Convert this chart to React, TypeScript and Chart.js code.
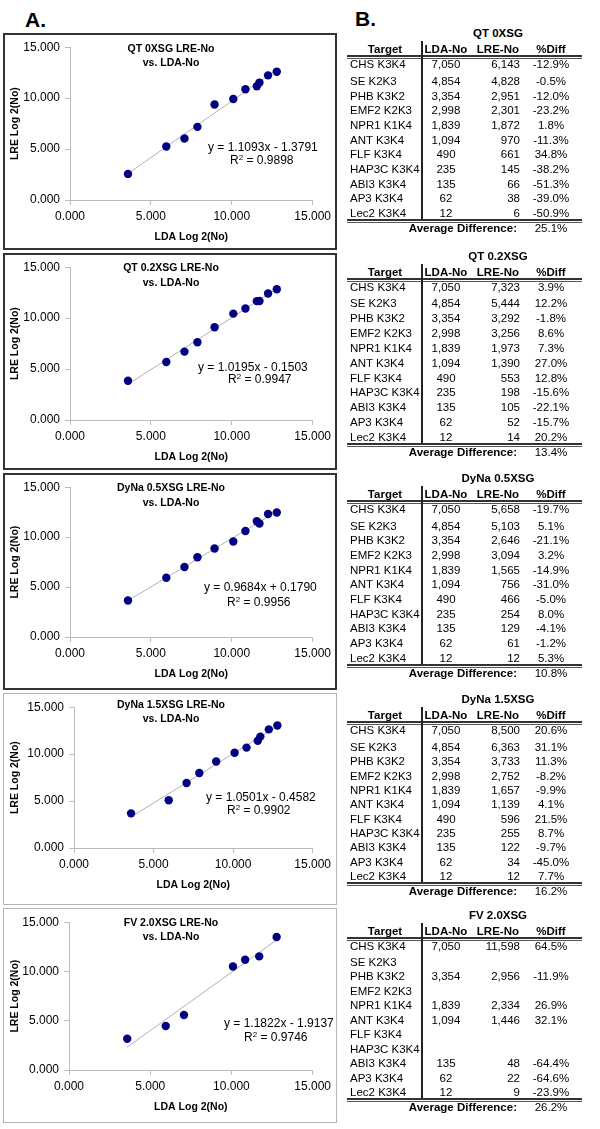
import React, { useEffect, useRef } from "react";
import { Chart, registerables } from "chart.js";

Chart.register(...registerables);

const FONT = 'Arial, "Liberation Sans", Helvetica, sans-serif';

// ---------- data ----------
const panelNames = ["QT 0XSG", "QT 0.2XSG", "DyNa 0.5XSG", "DyNa 1.5XSG", "FV 2.0XSG"];
const targets = [
  "CHS K3K4", "SE K2K3", "PHB K3K2", "EMF2 K2K3", "NPR1 K1K4", "ANT K3K4",
  "FLF K3K4", "HAP3C K3K4", "ABI3 K3K4", "AP3 K3K4", "Lec2 K3K4",
];
const ldaNo = [7050, 4854, 3354, 2998, 1839, 1094, 490, 235, 135, 62, 12];
const ldaNoFV = [7050, null, 3354, null, 1839, 1094, null, null, 135, 62, 12];

const lreQT0 = [6143, 4828, 2951, 2301, 1872, 970, 661, 145, 66, 38, 6];
const lreQT02 = [7323, 5444, 3292, 3256, 1973, 1390, 553, 198, 105, 52, 14];
const lreDyNa05 = [5658, 5103, 2646, 3094, 1565, 756, 466, 254, 129, 61, 12];
const lreDyNa15 = [8500, 6363, 3733, 2752, 1657, 1139, 596, 255, 122, 34, 12];
const lreFV20 = [11598, null, 2956, null, 2334, 1446, null, null, 48, 22, 9];

const diffQT0 = [-12.9, -0.5, -12.0, -23.2, 1.8, -11.3, 34.8, -38.2, -51.3, -39.0, -50.9];
const diffQT02 = [3.9, 12.2, -1.8, 8.6, 7.3, 27.0, 12.8, -15.6, -22.1, -15.7, 20.2];
const diffDyNa05 = [-19.7, 5.1, -21.1, 3.2, -14.9, -31.0, -5.0, 8.0, -4.1, -1.2, 5.3];
const diffDyNa15 = [20.6, 31.1, 11.3, -8.2, -9.9, 4.1, 21.5, 8.7, -9.7, -45.0, 7.7];
const diffFV20 = [64.5, null, -11.9, null, 26.9, 32.1, null, null, -64.4, -64.6, -23.9];
const avgDiff = [25.1, 13.4, 10.8, 16.2, 26.2];

// scatter points: Log2(No) values
const ldaLog2 = [12.783, 12.245, 11.712, 11.55, 10.845, 10.095, 8.937, 7.877, 7.077, 5.954, 3.585];
const lreLog2QT0 = [12.585, 12.237, 11.527, 11.168, 10.87, 9.922, 9.369, 7.18, 6.044, 5.248, 2.56];
const lreLog2QT02 = [12.838, 12.411, 11.685, 11.669, 10.946, 10.441, 9.111, 7.629, 6.714, 5.7, 3.85];
const lreLog2DyNa05 = [12.466, 12.317, 11.37, 11.595, 10.612, 9.562, 8.864, 7.989, 7.011, 5.931, 3.66];
const lreLog2DyNa15 = [13.053, 12.636, 11.866, 11.426, 10.694, 10.154, 9.219, 7.994, 6.931, 5.087, 3.69];
const lreLog2FV20 = [13.502, null, 11.53, null, 11.189, 10.498, null, null, 5.585, 4.459, 3.17];

const slopes = [1.1093, 1.0195, 0.9684, 1.0501, 1.1822];
const intercepts = [-1.3791, -0.1503, 0.179, -0.4582, -1.9137];
const rSquared = ["0.9898", "0.9947", "0.9956", "0.9902", "0.9746"];
const axisMin = 0;
const axisMax = 15;
const axisStep = 5;

const ldaTable = [ldaNo, ldaNo, ldaNo, ldaNo, ldaNoFV];
const lreTable = [lreQT0, lreQT02, lreDyNa05, lreDyNa15, lreFV20];
const diffTable = [diffQT0, diffQT02, diffDyNa05, diffDyNa15, diffFV20];
const lreLog2 = [lreLog2QT0, lreLog2QT02, lreLog2DyNa05, lreLog2DyNa15, lreLog2FV20];

// ---------- layout ----------
const BOX_TOP = [33, 253, 473, 693, 908];
const BOX_H = [217, 217, 217, 212, 215];
const BOX_BORDER = ["2px solid #333", "2px solid #333", "2px solid #333", "1px solid #b5b5b5", "1px solid #b5b5b5"];
const PLOT_TOP = [45, 263, 484, 702, 918];
const PLOT_BOTTOM = [200, 420, 637, 848, 1070];
const PLOT_LEFT = [70, 70, 70, 74, 69];
const PLOT_RIGHT = 313;
const CANVAS_LEFT = 5;
const CANVAS_W = 330;
const TITLE_Y1 = [48, 267, 487, 704, 922];
const TITLE_Y2 = [62, 282, 502, 718, 936];
const EQ1 = [[208, 147], [198, 367], [204, 587], [206, 797], [224, 1023]];
const EQ2 = [[230, 160], [228, 379], [227, 602], [227, 810], [244, 1037]];

const TBL_TITLE_Y = [33, 256, 478, 699, 915];
const TBL_FIRST_GAP = [17, 16, 16.7, 17, 15.7];
const TBL_PITCH = [14.67, 14.9, 14.67, 14.33, 14.5];

const NAVY = "#000080";
const AXIS = "#bdbdbd";

function fmtInt(v: number | null) {
  return v == null ? "" : v.toLocaleString("en-US");
}
function fmtPct(v: number | null) {
  return v == null ? "" : v.toFixed(1) + "%";
}
function fmtEq(m: number, b: number) {
  return "y = " + m.toFixed(4) + "x " + (b < 0 ? "- " : "+ ") + Math.abs(b).toFixed(4);
}

type TxtProps = {
  x: number;
  y: number;
  align?: "left" | "center" | "right";
  size?: number;
  bold?: boolean;
  children: React.ReactNode;
};

function Txt({ x, y, align = "left", size = 11.5, bold = false, children }: TxtProps) {
  const lh = 14;
  let left = x;
  const w = 240;
  if (align === "center") left = x - w / 2;
  if (align === "right") left = x - w;
  return (
    <div
      style={{
        position: "absolute",
        left,
        top: y - lh / 2,
        width: align === "left" ? "auto" : w,
        height: lh,
        lineHeight: lh + "px",
        fontSize: size,
        fontWeight: bold ? "bold" : "normal",
        fontFamily: FONT,
        textAlign: align,
        whiteSpace: "nowrap",
        color: "#000",
      }}
    >
      {children}
    </div>
  );
}

function ScatterPanel({ i }: { i: number }) {
  const ref = useRef<HTMLCanvasElement | null>(null);
  const canvasTop = BOX_TOP[i] + 2;
  const canvasH = BOX_H[i] - 4;

  useEffect(() => {
    if (!ref.current) return;
    const plotLeft = PLOT_LEFT[i] - CANVAS_LEFT;
    const plotTop = PLOT_TOP[i] - canvasTop;
    const plotBottom = PLOT_BOTTOM[i] - canvasTop;
    const plotRight = PLOT_RIGHT - CANVAS_LEFT;
    const ys = lreLog2[i];
    const pts = ldaLog2
      .map((x, k) => ({ x, y: ys[k] }))
      .filter((p) => p.y != null) as { x: number; y: number }[];
    const xs = pts.map((p) => p.x);
    const xMin = Math.min(...xs);
    const xMax = Math.max(...xs);
    const m = slopes[i];
    const b = intercepts[i];
    const trend = [
      { x: xMin, y: m * xMin + b },
      { x: xMax, y: m * xMax + b },
    ];
    const titleSize = 10.5;
    const titleLH = titleSize * 1.2;
    const xTitlePad = canvasH - plotBottom - 37 - titleLH / 2;
    const tickFont = { family: FONT, size: 12 };
    const titleFont = { family: FONT, size: titleSize, weight: "bold" as const };

    const chart = new Chart(ref.current, {
      type: "scatter",
      data: {
        datasets: [
          {
            type: "scatter",
            data: pts,
            pointRadius: 4.2,
            pointBackgroundColor: NAVY,
            pointBorderColor: NAVY,
            pointBorderWidth: 0,
            order: 0,
          },
          {
            type: "line",
            data: trend,
            borderColor: "#b0b0b0",
            borderWidth: 1,
            pointRadius: 0,
            fill: false,
            order: 1,
          } as any,
        ],
      },
      options: {
        responsive: false,
        animation: false,
        devicePixelRatio: 1,
        layout: { padding: { left: 0, top: plotTop, right: CANVAS_W - plotRight, bottom: 0 } },
        plugins: {
          legend: { display: false },
          tooltip: { enabled: false },
          title: { display: false },
        },
        scales: {
          x: {
            type: "linear",
            position: "bottom",
            min: axisMin,
            max: axisMax,
            ticks: {
              stepSize: axisStep,
              callback: (v: any) => Number(v).toFixed(3),
              font: tickFont,
              color: "#000",
              padding: 4,
              maxRotation: 0,
              autoSkip: false,
            },
            grid: { drawOnChartArea: false, drawTicks: true, tickLength: 5, color: AXIS },
            border: { color: AXIS, width: 1 },
            title: {
              display: true,
              text: "LDA Log 2(No)",
              font: titleFont,
              color: "#000",
              padding: { top: 0, bottom: xTitlePad },
            },
            afterFit: (s: any) => {
              s.height = canvasH - plotBottom;
            },
          },
          y: {
            type: "linear",
            position: "left",
            min: axisMin,
            max: axisMax,
            ticks: {
              stepSize: axisStep,
              callback: (v: any) => Number(v).toFixed(3),
              font: tickFont,
              color: "#000",
              padding: 5,
            },
            grid: { drawOnChartArea: false, drawTicks: true, tickLength: 5, color: AXIS },
            border: { color: AXIS, width: 1 },
            title: {
              display: true,
              text: "LRE Log 2(No)",
              font: titleFont,
              color: "#000",
              padding: { top: 4, bottom: 0 },
            },
            afterFit: (s: any) => {
              s.width = plotLeft;
            },
          },
        },
      } as any,
    });
    return () => chart.destroy();
  }, [i]);

  return (
    <>
      <div
        style={{
          position: "absolute",
          left: 3,
          top: BOX_TOP[i],
          width: 334,
          height: BOX_H[i],
          boxSizing: "border-box",
          border: BOX_BORDER[i],
          background: "#fff",
        }}
      />
      <canvas
        ref={ref}
        width={CANVAS_W}
        height={canvasH}
        style={{ position: "absolute", left: CANVAS_LEFT, top: canvasTop, width: CANVAS_W, height: canvasH }}
      />
      <Txt x={171} y={TITLE_Y1[i]} align="center" size={10.5} bold>
        {panelNames[i] + " LRE-No"}
      </Txt>
      <Txt x={171} y={TITLE_Y2[i]} align="center" size={10.5} bold>
        vs. LDA-No
      </Txt>
      <Txt x={EQ1[i][0]} y={EQ1[i][1]} size={12}>
        {fmtEq(slopes[i], intercepts[i])}
      </Txt>
      <Txt x={EQ2[i][0]} y={EQ2[i][1]} size={12}>
        R<sup style={{ fontSize: 8, verticalAlign: "4px", lineHeight: 0 }}>2</sup> = {rSquared[i]}
      </Txt>
    </>
  );
}

function Line({ x1, x2, y, h, color }: { x1: number; x2: number; y: number; h: number; color: string }) {
  return <div style={{ position: "absolute", left: x1, top: y, width: x2 - x1, height: h, background: color }} />;
}

function DataTable({ t }: { t: number }) {
  const ty = TBL_TITLE_Y[t];
  const headerY = ty + 16;
  const lineY = ty + 22;
  const rowY = (k: number) => (k === 0 ? ty + 31 : ty + 31 + TBL_FIRST_GAP[t] + (k - 1) * TBL_PITCH[t]);
  const lastY = rowY(targets.length - 1);
  const botY = lastY + 6;
  const avgY = lastY + 15;
  const lda = ldaTable[t];
  const lre = lreTable[t];
  const diff = diffTable[t];
  const X0 = 347;
  const X1 = 582;
  return (
    <>
      <Txt x={498} y={ty} align="center" bold>
        {panelNames[t]}
      </Txt>
      <Txt x={385} y={headerY} align="center" bold>
        Target
      </Txt>
      <Txt x={446} y={headerY} align="center" bold>
        LDA-No
      </Txt>
      <Txt x={519} y={headerY} align="right" bold>
        LRE-No
      </Txt>
      <Txt x={551} y={headerY} align="center" bold>
        %Diff
      </Txt>
      <Line x1={X0} x2={X1} y={lineY} h={2} color="#333" />
      <Line x1={X0} x2={X1} y={lineY + 3} h={1} color="#555" />
      <div style={{ position: "absolute", left: 421, top: ty + 8, width: 1.5, height: botY - ty - 8, background: "#222" }} />
      {targets.map((name, k) => (
        <React.Fragment key={k}>
          <Txt x={350} y={rowY(k)}>
            {name}
          </Txt>
          <Txt x={446} y={rowY(k)} align="center">
            {fmtInt(lda[k])}
          </Txt>
          <Txt x={520} y={rowY(k)} align="right">
            {fmtInt(lre[k])}
          </Txt>
          <Txt x={551} y={rowY(k)} align="center">
            {fmtPct(diff[k])}
          </Txt>
        </React.Fragment>
      ))}
      <Line x1={X0} x2={X1} y={botY} h={2} color="#333" />
      <Line x1={X0} x2={X1} y={botY + 3} h={1} color="#555" />
      <Txt x={517} y={avgY} align="right" bold>
        Average Difference:
      </Txt>
      <Txt x={551} y={avgY} align="center">
        {fmtPct(avgDiff[t])}
      </Txt>
    </>
  );
}

export default function App() {
  return (
    <div
      style={{
        position: "absolute",
        left: 0,
        top: 0,
        width: 600,
        height: 1129,
        background: "#fff",
        overflow: "hidden",
        fontFamily: FONT,
      }}
    >
      <Txt x={25} y={20} size={21} bold>
        A.
      </Txt>
      <Txt x={355} y={19} size={21} bold>
        B.
      </Txt>
      {panelNames.map((_, i) => (
        <ScatterPanel key={"p" + i} i={i} />
      ))}
      {panelNames.map((_, t) => (
        <DataTable key={"t" + t} t={t} />
      ))}
    </div>
  );
}
